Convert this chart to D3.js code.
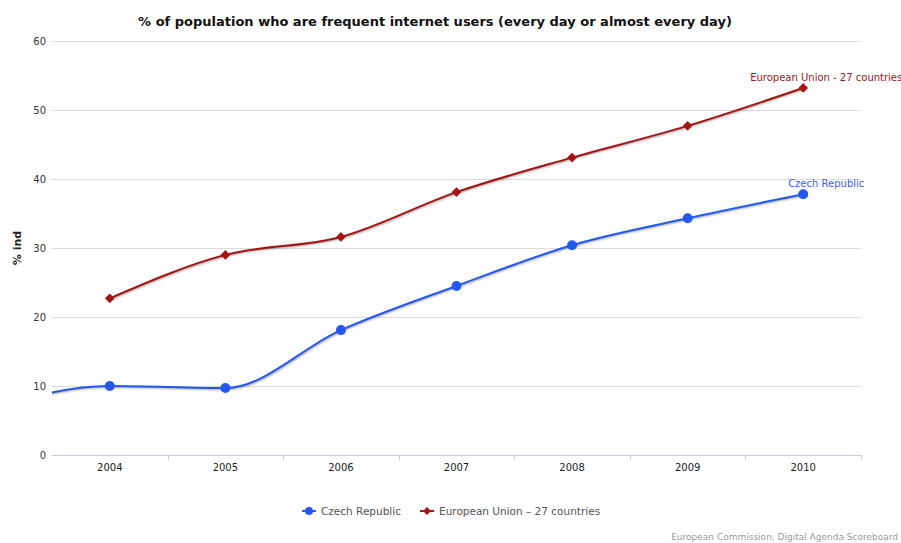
<!DOCTYPE html>
<html>
<head>
<meta charset="utf-8">
<script src="https://cdn.jsdelivr.net/npm/d3@7"></script>
<style>
  html, body { margin: 0; padding: 0; background: #fff; }
  svg { display: block; }
  text { font-family: "DejaVu Sans", sans-serif; }
</style>
</head>
<body>
<div id="chart"></div>
<script>
// ---- data ----
const years = ["2004", "2005", "2006", "2007", "2008", "2009", "2010"];
// Czech series has a 2003 point lying just outside the visible axis range
const czechYears = ["2003", "2004", "2005", "2006", "2007", "2008", "2009", "2010"];
const czechValues = [7.0, 10.0, 9.7, 18.1, 24.5, 30.4, 34.3, 37.8];
const euYears = ["2004", "2005", "2006", "2007", "2008", "2009", "2010"];
const euValues = [22.7, 29.0, 31.6, 38.1, 43.1, 47.7, 53.2];
const yTicks = [0, 10, 20, 30, 40, 50, 60];
const seriesNames = ["Czech Republic", "European Union - 27 countries"];
const legendNames = ["Czech Republic", "European Union \u2013 27 countries"];
const titleText = "% of population who are frequent internet users (every day or almost every day)";
const yTitle = "% ind";
const creditText = "European Commission, Digital Agenda Scoreboard";

// ---- layout ----
const W = 901, H = 543;
const m = { left: 52, right: 40, top: 41, bottom: 88 };
const pw = W - m.left - m.right, ph = H - m.top - m.bottom;
const blue = "#2458f0", red = "#a31414";

const svg = d3.select("#chart").append("svg").attr("width", W).attr("height", H);

const x = d3.scaleBand().domain(years).range([0, pw]).padding(0);
const y = d3.scaleLinear().domain([0, 60]).range([ph, 0]);
const step = x.step();
const xc = yr => x(yr) !== undefined ? x(yr) + step / 2 : x(years[0]) + step / 2 + (+yr - +years[0]) * step;

const g = svg.append("g").attr("transform", `translate(${m.left},${m.top})`);

// title
svg.append("text").attr("x", 435).attr("y", 26).attr("text-anchor", "middle")
  .attr("font-size", 13).attr("font-weight", "bold").attr("fill", "#111").text(titleText);

// grid + y axis
const yAxis = d3.axisLeft(y).tickValues(yTicks).tickSize(-pw).tickPadding(6);
const ya = g.append("g").call(yAxis);
ya.select(".domain").remove();
ya.selectAll(".tick line").attr("stroke", "#dcdcdc").attr("stroke-width", 1);
ya.selectAll(".tick text").attr("font-size", 10).attr("fill", "#333").attr("x", -6).attr("font-family", "DejaVu Sans");

// y title
svg.append("text").attr("transform", `translate(21,${m.top + ph / 2}) rotate(-90)`)
  .attr("text-anchor", "middle").attr("font-size", 11).attr("font-weight", "bold").attr("fill", "#222").text(yTitle);

// x axis
const xAxis = d3.axisBottom(x).tickSize(0).tickPadding(9);
const xa = g.append("g").attr("transform", `translate(0,${ph})`).call(xAxis);
xa.select(".domain").attr("stroke", "#c0d0e0").attr("d", `M0,0.5H${pw}`);
xa.selectAll(".tick text").attr("font-size", 10).attr("fill", "#222").attr("font-family", "DejaVu Sans");
// ticks at band boundaries
g.append("g").selectAll("line").data(years.map((d, i) => i + 1)).join("line")
  .attr("x1", i => Math.round(i * step) + 0.5).attr("x2", i => Math.round(i * step) + 0.5)
  .attr("y1", ph).attr("y2", ph + 5).attr("stroke", "#c0d0e0");

// clip
svg.append("defs").append("clipPath").attr("id", "clip")
  .append("rect").attr("x", 0).attr("y", -30).attr("width", pw).attr("height", ph + 40);

const line = d3.line().x(d => xc(d[0])).y(d => y(d[1])).curve(d3.curveMonotoneX);
const czech = czechYears.map((d, i) => [d, czechValues[i]]);
const eu = euYears.map((d, i) => [d, euValues[i]]);

const plot = g.append("g").attr("clip-path", "url(#clip)");
function drawSeries(data, color) {
  [[5, 0.05], [3, 0.1], [1, 0.15]].forEach(([w, o]) => {
    plot.append("path").datum(data).attr("d", line).attr("fill", "none")
      .attr("stroke", "#000").attr("stroke-opacity", o).attr("stroke-width", w)
      .attr("transform", "translate(1,1)");
  });
  plot.append("path").datum(data).attr("d", line).attr("fill", "none")
    .attr("stroke", color).attr("stroke-width", 2);
}
drawSeries(czech, blue);
drawSeries(eu, red);

// markers
g.append("g").selectAll("circle").data(czech.filter(d => years.includes(d[0]))).join("circle")
  .attr("cx", d => xc(d[0])).attr("cy", d => y(d[1])).attr("r", 5).attr("fill", blue);
const diamond = d3.symbol().type(d3.symbolDiamond2).size(60);
g.append("g").selectAll("path").data(eu).join("path")
  .attr("d", diamond).attr("transform", d => `translate(${xc(d[0])},${y(d[1])})`).attr("fill", red);

// end labels
const lastC = czech[czech.length - 1], lastE = eu[eu.length - 1];
g.append("text").attr("x", xc(lastC[0]) + 23).attr("y", y(lastC[1]) - 7).attr("text-anchor", "middle")
  .attr("font-size", 10).attr("font-family", "DejaVu Sans Condensed, DejaVu Sans").attr("fill", "#3a62e8").text(seriesNames[0]);
g.append("text").attr("x", xc(lastE[0]) + 23).attr("y", y(lastE[1]) - 7).attr("text-anchor", "middle")
  .attr("font-size", 10).attr("font-family", "DejaVu Sans Condensed, DejaVu Sans").attr("fill", "#8e1c1c").text(seriesNames[1]);

// legend
const leg = svg.append("g").attr("transform", "translate(301,511)");
leg.append("line").attr("x1", 1).attr("x2", 15).attr("y1", 0).attr("y2", 0).attr("stroke", blue).attr("stroke-width", 2);
leg.append("circle").attr("cx", 8).attr("cy", 0).attr("r", 4).attr("fill", blue);
leg.append("text").attr("x", 20).attr("y", 4).attr("font-size", 10.5).attr("fill", "#555")
  .attr("font-family", "DejaVu Sans Condensed, DejaVu Sans").text(legendNames[0]);
leg.append("line").attr("x1", 119).attr("x2", 133).attr("y1", 0).attr("y2", 0).attr("stroke", red).attr("stroke-width", 2);
leg.append("path").attr("d", d3.symbol().type(d3.symbolDiamond2).size(40)).attr("transform", "translate(126,0)").attr("fill", red);
leg.append("text").attr("x", 138).attr("y", 4).attr("font-size", 10.5).attr("fill", "#555")
  .attr("font-family", "DejaVu Sans Condensed, DejaVu Sans").text(legendNames[1]);

// credit
svg.append("text").attr("x", 898).attr("y", 540).attr("text-anchor", "end").attr("font-size", 9)
  .attr("fill", "#999").text(creditText);
</script>
</body>
</html>
